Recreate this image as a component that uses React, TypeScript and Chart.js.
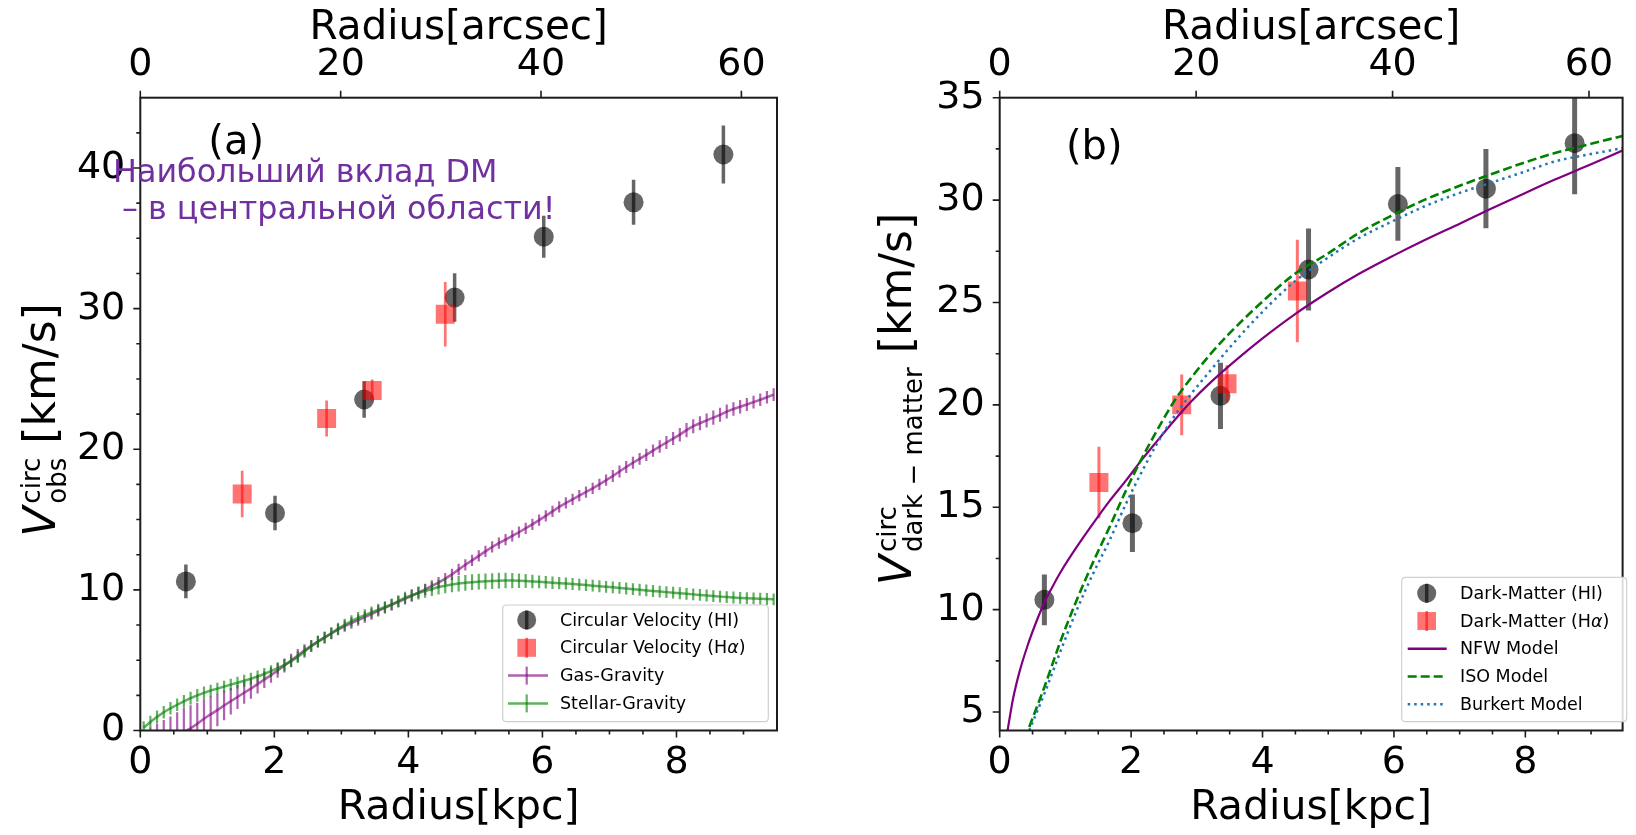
import React, { useEffect, useRef } from 'react';
import { Chart, registerables } from 'chart.js';

Chart.register(...registerables);

const FONT = '"DejaVu Sans", "Liberation Sans", sans-serif';
const ARCSEC_PER_KPC = 6.69;

// ---------------- Panel (a) : observed rotation curve ----------------
const hiRadiusA = [0.68, 2.01, 3.34, 4.69, 6.02, 7.36, 8.7];
const hiVelA = [10.6, 15.47, 23.54, 30.79, 35.11, 37.56, 40.96];
const hiErrA = [1.2, 1.23, 1.3, 1.73, 1.5, 1.6, 2.06];

const haRadiusA = [1.52, 2.78, 3.46, 4.55];
const haVelA = [16.82, 22.19, 24.18, 29.6];
const haErrA = [1.66, 1.28, 0.78, 2.3];

const modelRadius = [
  0.05, 0.15, 0.25, 0.35, 0.45, 0.55, 0.65, 0.75, 0.85, 0.95,
  1.05, 1.15, 1.25, 1.35, 1.45, 1.55, 1.65, 1.75, 1.85, 1.95,
  2.05, 2.15, 2.25, 2.35, 2.45, 2.55, 2.65, 2.75, 2.85, 2.95,
  3.05, 3.15, 3.25, 3.35, 3.45, 3.55, 3.65, 3.75, 3.85, 3.95,
  4.05, 4.15, 4.25, 4.35, 4.45, 4.55, 4.65, 4.75, 4.85, 4.95,
  5.05, 5.15, 5.25, 5.35, 5.45, 5.55, 5.65, 5.75, 5.85, 5.95,
  6.05, 6.15, 6.25, 6.35, 6.45, 6.55, 6.65, 6.75, 6.85, 6.95,
  7.05, 7.15, 7.25, 7.35, 7.45, 7.55, 7.65, 7.75, 7.85, 7.95,
  8.05, 8.15, 8.25, 8.35, 8.45, 8.55, 8.65, 8.75, 8.85, 8.95,
  9.05, 9.15, 9.25, 9.35, 9.45,
];
const gasVel = [
  -2.0, -1.7, -1.4, -1.1, -0.8, -0.45, -0.1, 0.15, 0.48, 0.83,
  1.15, 1.45, 1.78, 2.08, 2.38, 2.68, 2.98, 3.3, 3.62, 3.94,
  4.27, 4.62, 4.98, 5.34, 5.7, 6.02, 6.32, 6.62, 6.9, 7.17,
  7.42, 7.64, 7.85, 8.06, 8.28, 8.5, 8.72, 8.93, 9.14, 9.36,
  9.58, 9.8, 10.04, 10.28, 10.52, 10.8, 11.1, 11.45, 11.78, 12.1,
  12.42, 12.74, 13.05, 13.32, 13.58, 13.84, 14.1, 14.38, 14.66, 14.96,
  15.26, 15.58, 15.9, 16.18, 16.44, 16.7, 16.96, 17.22, 17.5, 17.8,
  18.1, 18.42, 18.74, 19.04, 19.32, 19.6, 19.9, 20.2, 20.48, 20.76,
  21.04, 21.36, 21.64, 21.85, 22.05, 22.25, 22.45, 22.68, 22.86, 23.02,
  23.18, 23.35, 23.52, 23.7, 23.88,
];
const gasErr = [
  1.9, 1.9, 1.9, 1.85, 1.8, 1.75, 1.7, 1.65, 1.5, 1.4,
  1.3, 1.15, 1.05, 0.95, 0.85, 0.78, 0.72, 0.66, 0.6, 0.55,
  0.52, 0.5, 0.47, 0.45, 0.43, 0.42, 0.42, 0.41, 0.41, 0.4,
  0.4, 0.4, 0.4, 0.4, 0.4, 0.4, 0.4, 0.4, 0.4, 0.4,
  0.4, 0.4, 0.4, 0.4, 0.4, 0.4, 0.4, 0.4, 0.4, 0.4,
  0.4, 0.4, 0.4, 0.4, 0.4, 0.4, 0.4, 0.4, 0.4, 0.4,
  0.4, 0.4, 0.4, 0.4, 0.4, 0.4, 0.4, 0.4, 0.4, 0.4,
  0.42, 0.42, 0.42, 0.42, 0.42, 0.44, 0.44, 0.44, 0.46, 0.46,
  0.48, 0.5, 0.5, 0.5, 0.5, 0.5, 0.5, 0.5, 0.48, 0.48,
  0.46, 0.46, 0.45, 0.45, 0.45,
];
const starVel = [
  0.2, 0.6, 0.97, 1.3, 1.58, 1.83, 2.07, 2.3, 2.5, 2.68,
  2.84, 2.98, 3.12, 3.26, 3.4, 3.54, 3.68, 3.84, 4.02, 4.22,
  4.43, 4.66, 4.92, 5.22, 5.6, 6.0, 6.32, 6.6, 6.92, 7.25,
  7.52, 7.78, 8.0, 8.2, 8.4, 8.6, 8.78, 8.97, 9.2, 9.45,
  9.62, 9.78, 9.92, 10.06, 10.2, 10.3, 10.38, 10.45, 10.5, 10.55,
  10.58, 10.61, 10.63, 10.65, 10.66, 10.66, 10.65, 10.63, 10.6, 10.57,
  10.54, 10.51, 10.48, 10.45, 10.42, 10.38, 10.34, 10.3, 10.26, 10.22,
  10.18, 10.14, 10.1, 10.05, 10.01, 9.96, 9.92, 9.88, 9.84, 9.8,
  9.76, 9.72, 9.68, 9.64, 9.6, 9.56, 9.52, 9.49, 9.46, 9.43,
  9.41, 9.39, 9.37, 9.35, 9.33,
];
const starErr = [
  0.45, 0.45, 0.45, 0.45, 0.45, 0.45, 0.45, 0.45, 0.45, 0.45,
  0.42, 0.42, 0.42, 0.42, 0.42, 0.42, 0.42, 0.42, 0.42, 0.42,
  0.42, 0.42, 0.42, 0.42, 0.42, 0.42, 0.42, 0.42, 0.42, 0.42,
  0.42, 0.42, 0.42, 0.42, 0.42, 0.42, 0.42, 0.42, 0.42, 0.42,
  0.44, 0.46, 0.48, 0.5, 0.52, 0.54, 0.55, 0.56, 0.56, 0.56,
  0.56, 0.56, 0.56, 0.56, 0.55, 0.54, 0.52, 0.5, 0.48, 0.46,
  0.45, 0.44, 0.44, 0.43, 0.43, 0.42, 0.42, 0.42, 0.42, 0.42,
  0.42, 0.42, 0.42, 0.42, 0.42, 0.42, 0.42, 0.42, 0.42, 0.42,
  0.42, 0.42, 0.42, 0.42, 0.42, 0.42, 0.42, 0.42, 0.42, 0.42,
  0.42, 0.42, 0.42, 0.42, 0.42,
];

// ---------------- Panel (b) : dark-matter rotation curve ----------------
const hiRadiusB = [0.68, 2.02, 3.36, 4.7, 6.06, 7.4, 8.75];
const hiVelB = [10.48, 14.22, 20.44, 26.61, 29.81, 30.56, 32.78];
const hiErrB = [1.24, 1.4, 1.62, 2.0, 1.8, 1.93, 2.5];

const haRadiusB = [1.51, 2.77, 3.46, 4.53];
const haVelB = [16.21, 20.0, 21.03, 25.56];
const haErrB = [1.75, 1.48, 0.9, 2.5];

const nfwRadius = [0.12, 0.2, 0.3, 0.43, 0.55, 0.68, 0.8, 0.93, 1.17, 1.42, 1.67, 1.92, 2.17, 2.42, 2.66, 2.91, 3.21, 3.6, 4.0, 4.48, 5.0, 5.47, 6.0, 6.47, 7.0, 7.46, 8.0, 8.45, 9.0, 9.5];
const nfwVel = [4.1, 5.6, 6.95, 8.3, 9.35, 10.35, 11.1, 11.85, 13.05, 14.2, 15.3, 16.3, 17.35, 18.33, 19.25, 20.15, 21.1, 22.2, 23.25, 24.4, 25.5, 26.4, 27.3, 28.05, 28.85, 29.55, 30.35, 31.0, 31.75, 32.45];

const isoRadius = [0.45, 0.68, 0.93, 1.17, 1.42, 1.67, 1.92, 2.17, 2.42, 2.66, 2.91, 3.2, 3.5, 4.0, 4.48, 5.0, 5.47, 6.0, 6.47, 7.0, 7.46, 8.0, 8.45, 9.0, 9.5];
const isoVel = [4.27, 6.22, 8.5, 10.45, 12.31, 14.02, 15.81, 17.43, 18.9, 20.2, 21.3, 22.45, 23.5, 25.05, 26.37, 27.4, 28.4, 29.3, 30.02, 30.7, 31.24, 31.85, 32.3, 32.75, 33.15];

const burRadius = [0.45, 0.68, 0.93, 1.17, 1.42, 1.67, 1.92, 2.17, 2.42, 2.66, 2.91, 3.2, 3.5, 4.0, 4.48, 5.0, 5.47, 6.0, 6.47, 7.0, 7.46, 8.0, 8.45, 9.0, 9.5];
const burVel = [4.1, 5.9, 8.01, 9.96, 11.75, 13.37, 15.16, 16.78, 18.25, 19.46, 20.52, 21.65, 22.8, 24.55, 26.0, 27.2, 28.15, 29.0, 29.7, 30.35, 30.83, 31.4, 31.89, 32.25, 32.55];

// ---------------- ticks ----------------
const kpcTicks = [0, 2, 4, 6, 8];
const kpcMinorTicks = [0.5, 1, 1.5, 2.5, 3, 3.5, 4.5, 5, 5.5, 6.5, 7, 7.5, 8.5, 9];
const arcsecTicks = [0, 20, 40, 60];
const velTicksA = [0, 10, 20, 30, 40];
const velMinorTicksA = [2.5, 5, 7.5, 12.5, 15, 17.5, 22.5, 25, 27.5, 32.5, 35, 37.5, 42.5];
const velTicksB = [5, 10, 15, 20, 25, 30, 35];
const velMinorTicksB = [7.5, 12.5, 17.5, 22.5, 27.5, 32.5];

const W = 818;
const H = 835;
const INK = '#1c1c1c';

const GRAY = 'rgba(0,0,0,0.6)';
const RED = 'rgba(255,0,0,0.55)';
const PURPLE_A = 'rgba(128,0,128,0.62)';
const GREEN_A = 'rgba(0,128,0,0.62)';

const pts = (xs: number[], ys: number[]) => xs.map((x, i) => ({ x, y: ys[i] }));

type Piece = [string, boolean];

function drawRich(ctx: CanvasRenderingContext2D, pieces: Piece[], x: number, y: number, size: number) {
  let cx = x;
  for (const [t, it] of pieces) {
    ctx.font = `${it ? 'italic ' : ''}${size}px ${FONT}`;
    ctx.fillText(t, cx, y);
    cx += ctx.measureText(t).width;
  }
}

function roundRectPath(ctx: CanvasRenderingContext2D, x: number, y: number, w: number, h: number, r: number) {
  ctx.beginPath();
  ctx.moveTo(x + r, y);
  ctx.lineTo(x + w - r, y);
  ctx.quadraticCurveTo(x + w, y, x + w, y + r);
  ctx.lineTo(x + w, y + h - r);
  ctx.quadraticCurveTo(x + w, y + h, x + w - r, y + h);
  ctx.lineTo(x + r, y + h);
  ctx.quadraticCurveTo(x, y + h, x, y + h - r);
  ctx.lineTo(x, y + r);
  ctx.quadraticCurveTo(x, y, x + r, y);
  ctx.closePath();
}

interface LegItem {
  kind: 'circle' | 'square' | 'lineErr' | 'line';
  color: string;
  bar?: string;
  dash?: number[];
  lw?: number;
  label: Piece[];
}

interface LegCfg {
  box: [number, number, number, number];
  row0: number;
  rowStep: number;
  markerX: number;
  lineX0: number;
  lineX1: number;
  textX: number;
  items: LegItem[];
}

function drawLegend(ctx: CanvasRenderingContext2D, cfg: LegCfg) {
  ctx.save();
  const [bx, by, bw, bh] = cfg.box;
  roundRectPath(ctx, bx, by, bw, bh, 4);
  ctx.fillStyle = 'rgba(255,255,255,0.85)';
  ctx.fill();
  ctx.strokeStyle = '#d0d0d0';
  ctx.lineWidth = 1.2;
  ctx.stroke();
  cfg.items.forEach((it, i) => {
    const y = cfg.row0 + i * cfg.rowStep;
    const mx = cfg.markerX;
    ctx.setLineDash([]);
    if (it.kind === 'circle') {
      ctx.fillStyle = it.color;
      ctx.beginPath();
      ctx.arc(mx, y, 9.5, 0, Math.PI * 2);
      ctx.fill();
      ctx.strokeStyle = it.bar!;
      ctx.lineWidth = 3.5;
      ctx.beginPath();
      ctx.moveTo(mx, y - 9.5);
      ctx.lineTo(mx, y + 9.5);
      ctx.stroke();
    } else if (it.kind === 'square') {
      ctx.fillStyle = it.color;
      ctx.fillRect(mx - 9.3, y - 9, 18.6, 18);
      ctx.strokeStyle = it.bar!;
      ctx.lineWidth = 2.7;
      ctx.beginPath();
      ctx.moveTo(mx, y - 10);
      ctx.lineTo(mx, y + 10);
      ctx.stroke();
    } else {
      ctx.strokeStyle = it.color;
      ctx.lineWidth = it.lw || 2.5;
      if (it.dash) ctx.setLineDash(it.dash);
      ctx.beginPath();
      ctx.moveTo(cfg.lineX0, y);
      ctx.lineTo(cfg.lineX1, y);
      ctx.stroke();
      ctx.setLineDash([]);
      if (it.kind === 'lineErr') {
        ctx.lineWidth = 2.2;
        ctx.beginPath();
        ctx.moveTo(mx, y - 9);
        ctx.lineTo(mx, y + 9);
        ctx.stroke();
      }
    }
    ctx.fillStyle = '#000';
    ctx.textAlign = 'left';
    ctx.textBaseline = 'middle';
    drawRich(ctx, it.label, cfg.textX, y + 1, 17.5);
  });
  ctx.restore();
}

function drawYLabel(
  ctx: CanvasRenderingContext2D,
  baseX: number,
  centerY: number,
  sup: string,
  sub: string,
) {
  const main = 44;
  const script = 26;
  ctx.save();
  ctx.translate(baseX, centerY);
  ctx.rotate(-Math.PI / 2);
  ctx.fillStyle = '#000';
  ctx.textAlign = 'left';
  ctx.textBaseline = 'alphabetic';
  const vFont = `italic ${main}px ${FONT}`;
  const sFont = `${script}px ${FONT}`;
  const tFont = `${main}px ${FONT}`;
  const tail = ' [km/s]';
  ctx.font = vFont;
  const wV = ctx.measureText('V').width;
  ctx.font = sFont;
  const wS = Math.max(ctx.measureText(sup).width, ctx.measureText(sub).width);
  ctx.font = tFont;
  const wT = ctx.measureText(tail).width;
  const gap = 3;
  const total = wV + gap + wS + wT;
  let x = -total / 2;
  ctx.font = vFont;
  ctx.fillText('V', x, 0);
  x += wV + gap;
  ctx.font = sFont;
  ctx.fillText(sup, x, -15);
  ctx.fillText(sub, x, 11);
  x += wS;
  ctx.font = tFont;
  ctx.fillText(tail, x, 0);
  ctx.restore();
}

function drawAxesFrame(chart: any, yMajor: number[], yMinor: number[]) {
  const { ctx, chartArea: a, scales } = chart;
  ctx.save();
  ctx.strokeStyle = INK;
  ctx.lineWidth = 1.6;
  ctx.beginPath();
  for (const v of kpcTicks) {
    const p = scales.x.getPixelForValue(v);
    ctx.moveTo(p, a.bottom);
    ctx.lineTo(p, a.bottom + 7);
  }
  for (const v of kpcMinorTicks) {
    const p = scales.x.getPixelForValue(v);
    if (p > a.right + 0.5) continue;
    ctx.moveTo(p, a.bottom);
    ctx.lineTo(p, a.bottom + 4);
  }
  for (const v of arcsecTicks) {
    const p = scales.x2.getPixelForValue(v);
    ctx.moveTo(p, a.top);
    ctx.lineTo(p, a.top - 7);
  }
  for (const v of yMajor) {
    const p = scales.y.getPixelForValue(v);
    ctx.moveTo(a.left, p);
    ctx.lineTo(a.left - 7, p);
  }
  for (const v of yMinor) {
    const p = scales.y.getPixelForValue(v);
    ctx.moveTo(a.left, p);
    ctx.lineTo(a.left - 4, p);
  }
  ctx.stroke();
  ctx.lineWidth = 2;
  ctx.strokeRect(a.left, a.top, a.right - a.left, a.bottom - a.top);
  ctx.restore();
}

const errorBarPlugin = {
  id: 'errorBars',
  afterDatasetDraw(chart: any, args: any) {
    const ds = chart.data.datasets[args.index];
    const errs: number[] | undefined = ds.errors;
    if (!errs) return;
    const { ctx, chartArea: a } = chart;
    const xs = chart.scales.x;
    const ys = chart.scales.y;
    ctx.save();
    ctx.beginPath();
    ctx.rect(a.left, a.top, a.right - a.left, a.bottom - a.top);
    ctx.clip();
    ctx.strokeStyle = ds.errorColor;
    ctx.lineWidth = ds.errorWidth;
    ds.data.forEach((p: { x: number; y: number }, i: number) => {
      const px = xs.getPixelForValue(p.x);
      ctx.beginPath();
      ctx.moveTo(px, ys.getPixelForValue(p.y - errs[i]));
      ctx.lineTo(px, ys.getPixelForValue(p.y + errs[i]));
      ctx.stroke();
    });
    ctx.restore();
  },
};

const tickFont = { family: FONT, size: 38 };

function scalesFor(xMax: number, yMin: number, yMax: number, yTicks: number[], yWidth: number) {
  return {
    x: {
      type: 'linear',
      position: 'bottom',
      min: 0,
      max: xMax,
      afterFit: (s: any) => {
        s.height = 104.5;
      },
      afterBuildTicks: (s: any) => {
        s.ticks = kpcTicks.map((v) => ({ value: v }));
      },
      grid: { display: false, drawTicks: false },
      border: { display: false },
      ticks: { font: tickFont, color: '#000', padding: 10, maxRotation: 0, autoSkip: false, callback: (v: any) => String(v) },
      title: { display: true, text: 'Radius[kpc]', color: '#000', font: { family: FONT, size: 41 }, padding: { top: 0, bottom: 2 } },
    },
    x2: {
      type: 'linear',
      position: 'top',
      min: 0,
      max: xMax * ARCSEC_PER_KPC,
      afterFit: (s: any) => {
        s.height = 97.7;
      },
      afterBuildTicks: (s: any) => {
        s.ticks = arcsecTicks.map((v) => ({ value: v }));
      },
      grid: { display: false, drawTicks: false },
      border: { display: false },
      ticks: { font: tickFont, color: '#000', padding: 10, maxRotation: 0, autoSkip: false, callback: (v: any) => String(v) },
      title: { display: true, text: 'Radius[arcsec]', color: '#000', font: { family: FONT, size: 40.5 }, padding: { top: 4, bottom: 0 } },
    },
    y: {
      type: 'linear',
      position: 'left',
      min: yMin,
      max: yMax,
      afterFit: (s: any) => {
        s.width = yWidth;
      },
      afterBuildTicks: (s: any) => {
        s.ticks = yTicks.map((v) => ({ value: v }));
      },
      grid: { display: false, drawTicks: false },
      border: { display: false },
      ticks: { font: tickFont, color: '#000', padding: 15, autoSkip: false, callback: (v: any) => String(v) },
    },
  };
}

function buildA(): any {
  const decor = {
    id: 'decorA',
    afterDraw(chart: any) {
      const { ctx, scales } = chart;
      drawAxesFrame(chart, velTicksA, velMinorTicksA);
      ctx.save();
      ctx.fillStyle = '#000';
      ctx.font = `40px ${FONT}`;
      ctx.textAlign = 'center';
      ctx.textBaseline = 'middle';
      ctx.fillText('(a)', scales.x.getPixelForValue(1.43), scales.y.getPixelForValue(41.7));
      ctx.fillStyle = '#7030A0';
      ctx.font = `31.8px ${FONT}`;
      ctx.textAlign = 'left';
      ctx.textBaseline = 'alphabetic';
      ctx.fillText('Наибольший вклад DM', 113, 182);
      ctx.fillText('– в центральной области!', 122, 219);
      ctx.restore();
      drawLegend(ctx, {
        box: [502.7, 605, 265.6, 116.7],
        row0: 620,
        rowStep: 27.8,
        markerX: 526.7,
        lineX0: 508,
        lineX1: 548,
        textX: 560,
        items: [
          { kind: 'circle', color: GRAY, bar: GRAY, label: [['Circular Velocity (HI)', false]] },
          { kind: 'square', color: RED, bar: RED, label: [['Circular Velocity (H', false], ['α', true], [')', false]] },
          { kind: 'lineErr', color: PURPLE_A, label: [['Gas-Gravity', false]] },
          { kind: 'lineErr', color: GREEN_A, label: [['Stellar-Gravity', false]] },
        ],
      });
      drawYLabel(ctx, 55, 420, 'circ', 'obs');
    },
  };
  return {
    type: 'scatter',
    data: {
      datasets: [
        { label: 'Stellar-Gravity', data: pts(modelRadius, starVel), showLine: true, borderColor: GREEN_A, borderWidth: 2.5, pointRadius: 0, errors: starErr, errorColor: GREEN_A, errorWidth: 2.2 },
        { label: 'Gas-Gravity', data: pts(modelRadius, gasVel), showLine: true, borderColor: PURPLE_A, borderWidth: 2.5, pointRadius: 0, errors: gasErr, errorColor: PURPLE_A, errorWidth: 2.2 },
        { label: 'Circular Velocity (Hα)', data: pts(haRadiusA, haVelA), pointStyle: 'rect', pointRadius: 13.4, backgroundColor: RED, borderWidth: 0, errors: haErrA, errorColor: RED, errorWidth: 2.7 },
        { label: 'Circular Velocity (HI)', data: pts(hiRadiusA, hiVelA), pointStyle: 'circle', pointRadius: 10, backgroundColor: GRAY, borderWidth: 0, errors: hiErrA, errorColor: GRAY, errorWidth: 3.5 },
      ],
    },
    options: {
      animation: false,
      responsive: false,
      devicePixelRatio: 1,
      events: [],
      layout: { padding: { left: 0, right: 41, top: 0, bottom: 0 } },
      plugins: { legend: { display: false }, tooltip: { enabled: false } },
      scales: scalesFor(9.5, 0, 45, velTicksA, 140.3),
    },
    plugins: [errorBarPlugin, decor],
  };
}

function buildB(): any {
  const decor = {
    id: 'decorB',
    afterDraw(chart: any) {
      const { ctx, scales } = chart;
      drawAxesFrame(chart, velTicksB, velMinorTicksB);
      ctx.save();
      ctx.fillStyle = '#000';
      ctx.font = `40px ${FONT}`;
      ctx.textAlign = 'center';
      ctx.textBaseline = 'middle';
      ctx.fillText('(b)', scales.x.getPixelForValue(1.44), scales.y.getPixelForValue(32.5));
      ctx.restore();
      drawLegend(ctx, {
        box: [583.7, 577.3, 225, 144.4],
        row0: 593.3,
        rowStep: 27.75,
        markerX: 608.7,
        lineX0: 589.7,
        lineX1: 628.7,
        textX: 642,
        items: [
          { kind: 'circle', color: GRAY, bar: GRAY, label: [['Dark-Matter (HI)', false]] },
          { kind: 'square', color: RED, bar: RED, label: [['Dark-Matter (H', false], ['α', true], [')', false]] },
          { kind: 'line', color: '#800080', lw: 2.5, label: [['NFW Model', false]] },
          { kind: 'line', color: '#008000', lw: 2.5, dash: [9, 4], label: [['ISO Model', false]] },
          { kind: 'line', color: '#1f77b4', lw: 2.5, dash: [2.5, 4], label: [['Burkert Model', false]] },
        ],
      });
      drawYLabel(ctx, 93, 399, 'circ', 'dark − matter');
    },
  };
  return {
    type: 'scatter',
    data: {
      datasets: [
        { label: 'Burkert Model', data: pts(burRadius, burVel), showLine: true, borderColor: '#1f77b4', borderWidth: 2.5, borderDash: [2.5, 4], pointRadius: 0, cubicInterpolationMode: 'monotone' },
        { label: 'ISO Model', data: pts(isoRadius, isoVel), showLine: true, borderColor: '#008000', borderWidth: 2.6, borderDash: [9, 4], pointRadius: 0, cubicInterpolationMode: 'monotone' },
        { label: 'NFW Model', data: pts(nfwRadius, nfwVel), showLine: true, borderColor: '#800080', borderWidth: 2.2, pointRadius: 0, cubicInterpolationMode: 'monotone' },
        { label: 'Dark-Matter (Hα)', data: pts(haRadiusB, haVelB), pointStyle: 'rect', pointRadius: 13.4, backgroundColor: RED, borderWidth: 0, errors: haErrB, errorColor: RED, errorWidth: 3 },
        { label: 'Dark-Matter (HI)', data: pts(hiRadiusB, hiVelB), pointStyle: 'circle', pointRadius: 10, backgroundColor: GRAY, borderWidth: 0, errors: hiErrB, errorColor: GRAY, errorWidth: 5 },
      ],
    },
    options: {
      animation: false,
      responsive: false,
      devicePixelRatio: 1,
      events: [],
      layout: { padding: { left: 0, right: 1, top: 0, bottom: 0 } },
      plugins: { legend: { display: false }, tooltip: { enabled: false } },
      scales: scalesFor(9.48, 4.1, 35, velTicksB, 181.7),
    },
    plugins: [errorBarPlugin, decor],
  };
}

function Panel({ left, build }: { left: number; build: () => any }) {
  const ref = useRef<HTMLCanvasElement>(null);
  useEffect(() => {
    const chart = new Chart(ref.current as HTMLCanvasElement, build());
    return () => chart.destroy();
  }, []);
  return (
    <canvas
      ref={ref}
      width={W}
      height={H}
      style={{ position: 'absolute', left, top: 0, width: W, height: H }}
    />
  );
}

export default function App() {
  return (
    <div style={{ position: 'absolute', left: 0, top: 0, width: 1636, height: 835, background: '#fff', overflow: 'hidden' }}>
      <Panel left={0} build={buildA} />
      <Panel left={818} build={buildB} />
    </div>
  );
}
